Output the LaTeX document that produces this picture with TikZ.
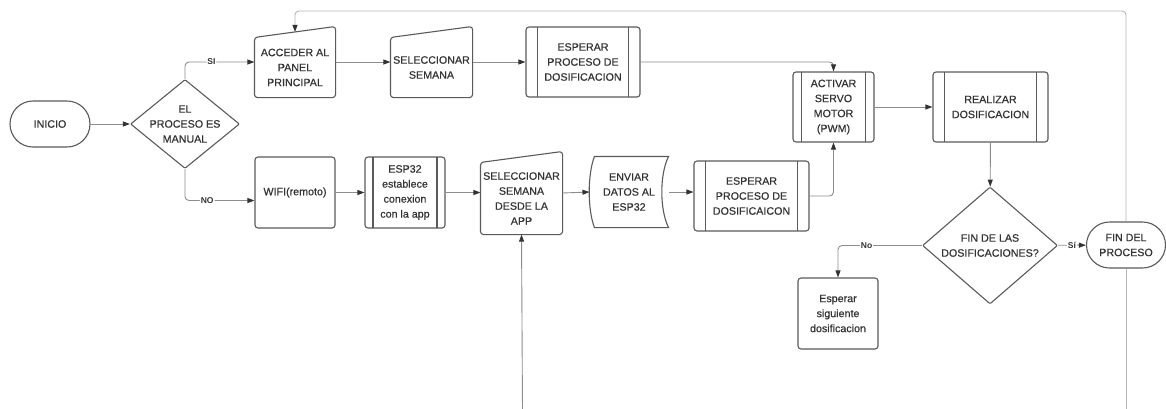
\documentclass[tikz,border=0pt]{standalone}
\usepackage{fontspec}
\setmainfont{Liberation Sans}
\newfontfamily\lucidfont{Liberation Sans}[FakeBold=0.5]
\usepackage{tikz}
\usetikzlibrary{shapes.geometric, arrows.meta, calc}

\definecolor{shpgray}{HTML}{5A5A5A}
\definecolor{lingray}{HTML}{8C8C8C}
\definecolor{loopgray}{HTML}{B4B4B4}
\definecolor{txtgray}{HTML}{333333}

\tikzset{
  box/.style={draw=shpgray, line width=1.1pt, fill=white, rounded corners=3pt,
    inner sep=0pt, align=center, text=txtgray,
    font=\lucidfont\fontsize{10.7}{15}\selectfont},
  startend/.style={box, minimum height=46pt, rounded corners=23pt},
  decision/.style={diamond, draw=shpgray, line width=1.1pt, fill=white,
    inner sep=0pt, rounded corners=1pt},
  predef/.style={box, path picture={
    \draw[shpgray, line width=1.1pt]
      ($(path picture bounding box.north west)!0.1!(path picture bounding box.north east)$) --
      ($(path picture bounding box.south west)!0.1!(path picture bounding box.south east)$)
      ($(path picture bounding box.north east)!0.1!(path picture bounding box.north west)$) --
      ($(path picture bounding box.south east)!0.1!(path picture bounding box.south west)$);}},
  shp/.style={draw=shpgray, line width=1.1pt, rounded corners=3pt},
  conn/.style={draw=lingray, line width=0.9pt, rounded corners=4pt,
    -{Triangle[length=7pt, width=5pt, color=txtgray]}},
  loopline/.style={conn, draw=loopgray},
  lbl/.style={fill=white, inner sep=1pt, text=txtgray,
    font=\bfseries\fontsize{8.5}{10}\selectfont},
  dtxt/.style={text=txtgray, align=center, font=\lucidfont\fontsize{10.7}{15}\selectfont}
}

% manual input: slanted top over the node
\newcommand{\maninput}[1]{%
  \draw[shp] (#1.south west) -- (#1.north west) -- ([yshift=11pt]#1.north east)
    -- (#1.south east) -- cycle;}

\begin{document}
\begin{tikzpicture}[x=1pt, y=-1pt]
  \useasboundingbox (0,0) rectangle (1166,408);

  % manual branch
  \node[startend, minimum width=80pt] (inicio) at (50,124) {INICIO};
  \node[decision, minimum width=109pt, minimum height=89pt,
    label={[dtxt]center:EL\\PROCESO ES\\MANUAL}] (manual) at (185,124) {};
  \node[box, draw=none, fill=none, minimum width=80pt, minimum height=59pt] (acc) at (295,67.5) {ACCEDER AL\\PANEL\\PRINCIPAL};
  \maninput{acc}
  \node[box, draw=none, fill=none, minimum width=81pt, minimum height=59pt] (sel) at (431.5,67.5) {SELECCIONAR\\SEMANA};
  \maninput{sel}
  \node[predef, minimum width=114pt, minimum height=70pt] (espera) at (583,62) {ESPERAR\\PROCESO DE\\DOSIFICACION};

  % remote branch
  \node[box, minimum width=80pt, minimum height=71pt] (wifi) at (295,192.5) {WIFI(remoto)};
  \node[predef, minimum width=80pt, minimum height=71pt] (esp32) at (405,192.5) {ESP32\\establece\\conexion\\con la app};
  \node[box, draw=none, fill=none, minimum width=81pt, minimum height=71pt] (selapp) at (521.5,198.5) {SELECCIONAR\\SEMANA\\DESDE LA\\APP};
  \maninput{selapp}
  \node[box, draw=none, fill=none, minimum width=78pt, minimum height=70pt] (env) at (629,192) {ENVIAR\\DATOS AL\\ESP32};
  \draw[draw=shpgray, line width=1.1pt] ([xshift=5pt]env.north west) -- (env.north east)
    .. controls ([xshift=-9pt,yshift=-18pt]env.north east) and ([xshift=-9pt,yshift=18pt]env.south east) .. (env.south east)
    -- ([xshift=5pt]env.south west)
    .. controls ([xshift=-2pt,yshift=18pt]env.south west) and ([xshift=-2pt,yshift=-18pt]env.north west) .. ([xshift=5pt]env.north west) -- cycle;
  \node[predef, minimum width=115pt, minimum height=70pt] (espb) at (751.5,196) {ESPERAR\\PROCESO DE\\DOSIFICAICON};

  % common part
  \node[predef, minimum width=81pt, minimum height=70pt] (act) at (833.5,107) {ACTIVAR\\SERVO\\MOTOR\\(PWM)};
  \node[predef, minimum width=115pt, minimum height=70pt] (real) at (990.5,107) {REALIZAR\\DOSIFICACION};
  \node[decision, minimum width=135pt, minimum height=117pt,
    label={[dtxt]center:FIN DE LAS\\DOSIFICACIONES?}] (fin) at (990,245.5) {};
  \node[startend, minimum width=79pt] (finp) at (1126,245) {FIN DEL\\PROCESO};
  \node[box, minimum width=80pt, minimum height=71pt] (sig) at (838,313.5) {Esperar\\siguiente\\dosificacion};

  \coordinate (lo1) at (1126,412);
  \coordinate (lo2) at (522.5,412);
  \coordinate (acctop) at ([yshift=5.5pt]acc.north);

  % connectors
  \draw[conn] (inicio) -- (manual);
  \draw[conn] (manual.north) |- ([yshift=5.5pt]acc.west) node[lbl, pos=0.69] {SI};
  \draw[conn] (manual.south) |- ([yshift=-8pt]wifi.west) node[lbl, pos=0.66] {NO};
  \draw[conn] ([yshift=5.5pt]acc.east) -- ([yshift=5.5pt]sel.west);
  \draw[conn] ([yshift=5.5pt]sel.east) -- (espera.west);
  \draw[conn] (espera.east) -| (act.north);
  \draw[conn] (wifi) -- (esp32);
  \draw[conn] (esp32.east) -- (esp32.east -| selapp.west);
  \draw[conn] ([yshift=5.5pt]selapp.east) -- (env.west);
  \draw[conn] (env.east) -- (env.east -| espb.west);
  \draw[conn] (espb.east) -| (act.south);
  \draw[conn] (act) -- (real);
  \draw[conn] (real) -- (fin);
  \draw[conn] (fin) -- (finp) node[lbl, midway] {Sí};
  \draw[conn] (fin.west) -| (sig.north) node[lbl, pos=0.33] {No};
  \draw[loopline, -] (lo1) -- (finp.south);
  \draw[loopline] (finp.north) |- ([yshift=21pt]acctop) -- (acctop);
  \draw[conn] (lo2) -- (selapp.south);
\end{tikzpicture}
\end{document}
